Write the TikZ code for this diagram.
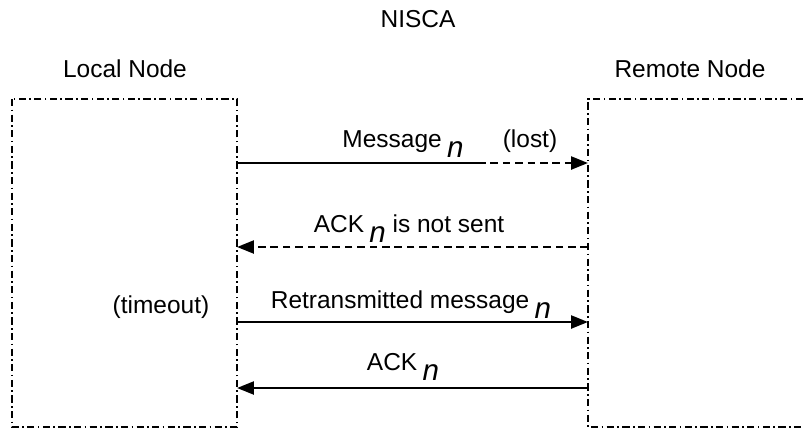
\documentclass[tikz,border=0pt]{standalone}
\usepackage{fontspec}
\setmainfont{Liberation Sans}
\usepackage{tikz}
\usetikzlibrary{positioning,arrows.meta,calc}

% italic index set below the line, a bit larger than the text
\newcommand{\idx}[1]{\kern0.22em\raisebox{-7.5pt}{\fontsize{21}{24}\selectfont\textit{#1}}}

\tikzset{
  lbl/.style={font=\fontsize{17.4}{20}\selectfont, inner sep=0pt, anchor=base},
  hostbox/.style={line width=1.7pt, dash pattern=on 0.18cm off 0.085cm on 0.04cm off 0.085cm},
  msg/.style={line width=1.8pt, -{Triangle[length=0.42cm,width=0.32cm]}},
  msgplain/.style={line width=1.8pt},
  lostmsg/.style={line width=1.8pt, dash pattern=on 0.19cm off 0.12cm}
}

\begin{document}
\begin{tikzpicture}[x=0.025cm, y=-0.025cm]
  \useasboundingbox (0,0) rectangle (803,430);
  % headings
  \node[lbl] (title) at (418,27) {NISCA};
  \node[lbl] (local) at (125,77) {Local Node};
  \node[lbl] (remote) at (690,77) {Remote Node};
  % local node box and remote node box (cut off at the right)
  \draw[hostbox] (12,99) rectangle (237,427);
  \draw[hostbox] (803,99) -- (588,99) -- (588,427) -- (803,427);
  % end points on the box edges
  \coordinate (l1) at (237,163); \coordinate (r1) at (588,163);
  \coordinate (m1) at (478,163);
  \coordinate (l2) at (237,247); \coordinate (r2) at (588,247);
  \coordinate (l3) at (237,322); \coordinate (r3) at (588,322);
  \coordinate (l4) at (237,388); \coordinate (r4) at (588,388);
  % message n, lost on the way
  \draw[msgplain] (l1) -- (m1);
  \draw[msg, lostmsg] (m1) -- (r1);
  \node[lbl] (msgn) at (403,147) {Message\idx{n}};
  \node[lbl] (lost) at (530,147) {(lost)};
  % no ack
  \draw[msg, lostmsg] (r2) -- (l2);
  \node[lbl] (noack) at (409,232) {ACK\idx{n} is not sent};
  % timeout and retransmission
  \node[lbl] (timeout) at (161,313) {(timeout)};
  \draw[msg] (l3) -- (r3);
  \node[lbl] (retx) at (411,308) {Retransmitted message\idx{n}};
  % ack
  \draw[msg] (r4) -- (l4);
  \node[lbl] (ackn) at (403,370) {ACK\idx{n}};
\end{tikzpicture}
\end{document}
